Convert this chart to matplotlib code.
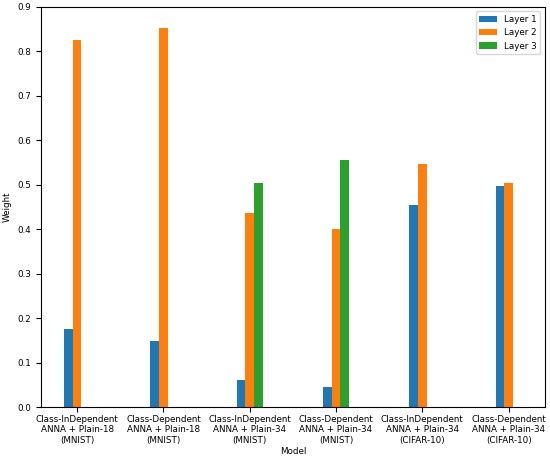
import numpy as np
import matplotlib.pyplot as plt

models = ["Class-InDependent\nANNA + Plain-18\n(MNIST)",
          "Class-Dependent\nANNA + Plain-18\n(MNIST)",
          "Class-InDependent\nANNA + Plain-34\n(MNIST)",
          "Class-Dependent\nANNA + Plain-34\n(MNIST)",
          "Class-InDependent\nANNA + Plain-34\n(CIFAR-10)",
          "Class-Dependent\nANNA + Plain-34\n(CIFAR-10)"]
layer1 = [0.175, 0.148, 0.060, 0.045, 0.455, 0.497]
layer2 = [0.826, 0.852, 0.437, 0.400, 0.546, 0.503]
layer3 = [0.0, 0.0, 0.504, 0.555, 0.0, 0.0]

plt.rcParams['font.size'] = 6.3
fig, ax = plt.subplots(figsize=(5.5, 4.61), dpi=100)
x = np.arange(len(models))
w = 0.1
ax.bar(x - w, layer1, w, label="Layer 1")
ax.bar(x, layer2, w, label="Layer 2")
ax.bar(x + w, layer3, w, label="Layer 3")
ax.set_xticks(x)
ax.set_xticklabels(models)
ax.tick_params(axis='x', pad=2)
ax.set_ylim(0, 0.9)
ax.set_xlabel("Model", labelpad=2)
ax.set_ylabel("Weight")
ax.legend(loc="upper right")
fig.subplots_adjust(left=0.075, right=0.99, top=0.985, bottom=0.117)
fig.savefig("out.png")
